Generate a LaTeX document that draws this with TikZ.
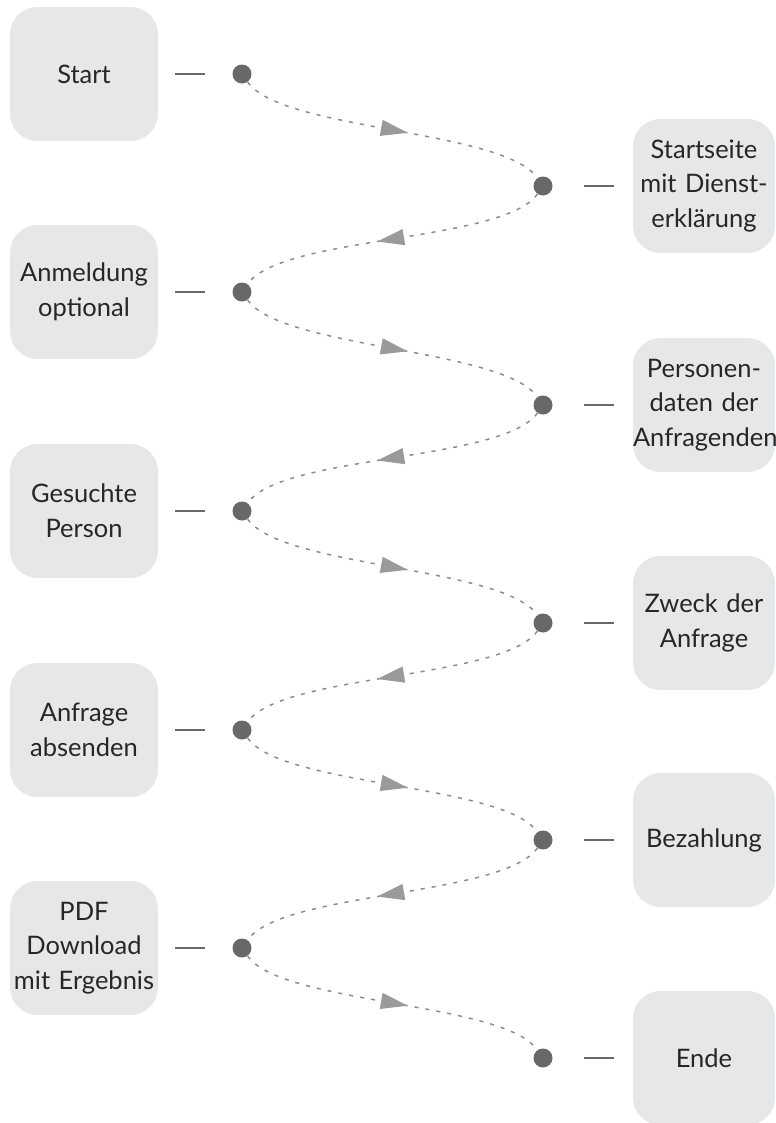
\documentclass[tikz,border=0pt]{standalone}
\usepackage{fontspec}
\setmainfont{Lato}
\usetikzlibrary{arrows.meta,decorations.markings}

\definecolor{boxgray}{HTML}{E6E7E8}
\definecolor{dotgray}{HTML}{68686A}
\definecolor{pathgray}{HTML}{8C8C8C}
\definecolor{tipgray}{HTML}{9A9A9A}
\definecolor{textgray}{HTML}{262626}

\begin{document}
\begin{tikzpicture}[
        x=0.02cm, y=-0.02cm,
        font=\fontsize{14.5}{19.8}\selectfont,
        schritt/.style={
            rectangle, rounded corners=0.55cm, fill=boxgray, text=textgray,
            minimum height=2.68cm, text width=2.96cm, align=center, inner sep=0pt
        },
        schrittR/.style={schritt, text width=2.84cm},
        punkt/.style={circle, fill=dotgray, minimum size=0.38cm, inner sep=0pt},
        strich/.style={draw=dotgray, line width=0.85pt},
        strichL/.style={strich, shorten <=0.34cm, shorten >=0.54cm},
        strichR/.style={strich, shorten <=0.62cm, shorten >=0.38cm},
        welle/.style={
            draw=pathgray, line width=0.85pt, dash pattern=on 2.3pt off 4pt,
            looseness=0.5, postaction={decorate},
            decoration={markings, mark=at position 0.55 with
                {\arrow{Triangle[length=0.54cm,width=0.32cm,color=tipgray,fill=tipgray]}}}
        },
        hin/.style={welle, out=-55, in=125},
        rueck/.style={welle, out=-125, in=55}
    ]
        \useasboundingbox (0,0) rectangle (775,1123);

        % Linke Spalte
        \node[schritt] (start) at (84,74) {Start};
        \node[schritt] (anmeldung) at (84,292) {Anmeldung\\optional};
        \node[schritt] (gesucht) at (84,511) {Gesuchte\\Person};
        \node[schritt] (absenden) at (84,730) {Anfrage\\absenden};
        \node[schritt] (pdf) at (84,948) {PDF\\Download\\mit Ergebnis};

        % Rechte Spalte
        \node[schrittR] (startseite) at (704,186) {Startseite\\mit Dienst-\\erklärung};
        \node[schrittR] (personen) at (704,405) {Personen-\\daten der\\Anfragenden};
        \node[schrittR] (zweck) at (704,623) {Zweck der\\Anfrage};
        \node[schrittR] (bezahlung) at (704,840) {Bezahlung};
        \node[schrittR] (ende) at (704,1058) {Ende};

        % Punkte
        \node[punkt] (pStart) at (242,74) {};
        \node[punkt] (pAnmeldung) at (242,292) {};
        \node[punkt] (pGesucht) at (242,511) {};
        \node[punkt] (pAbsenden) at (242,730) {};
        \node[punkt] (pPdf) at (242,948) {};
        \node[punkt] (pStartseite) at (543,186) {};
        \node[punkt] (pPersonen) at (543,405) {};
        \node[punkt] (pZweck) at (543,623) {};
        \node[punkt] (pBezahlung) at (543,840) {};
        \node[punkt] (pEnde) at (543,1058) {};

        % Striche
        \draw[strichL] (start) -- (pStart);
        \draw[strichL] (anmeldung) -- (pAnmeldung);
        \draw[strichL] (gesucht) -- (pGesucht);
        \draw[strichL] (absenden) -- (pAbsenden);
        \draw[strichL] (pdf) -- (pPdf);
        \draw[strichR] (pStartseite) -- (startseite);
        \draw[strichR] (pPersonen) -- (personen);
        \draw[strichR] (pZweck) -- (zweck);
        \draw[strichR] (pBezahlung) -- (bezahlung);
        \draw[strichR] (pEnde) -- (ende);

        % Ablauf
        \draw[hin] (pStart) to (pStartseite);
        \draw[rueck] (pStartseite) to (pAnmeldung);
        \draw[hin] (pAnmeldung) to (pPersonen);
        \draw[rueck] (pPersonen) to (pGesucht);
        \draw[hin] (pGesucht) to (pZweck);
        \draw[rueck] (pZweck) to (pAbsenden);
        \draw[hin] (pAbsenden) to (pBezahlung);
        \draw[rueck] (pBezahlung) to (pPdf);
        \draw[hin] (pPdf) to (pEnde);

    \end{tikzpicture}
\end{document}
